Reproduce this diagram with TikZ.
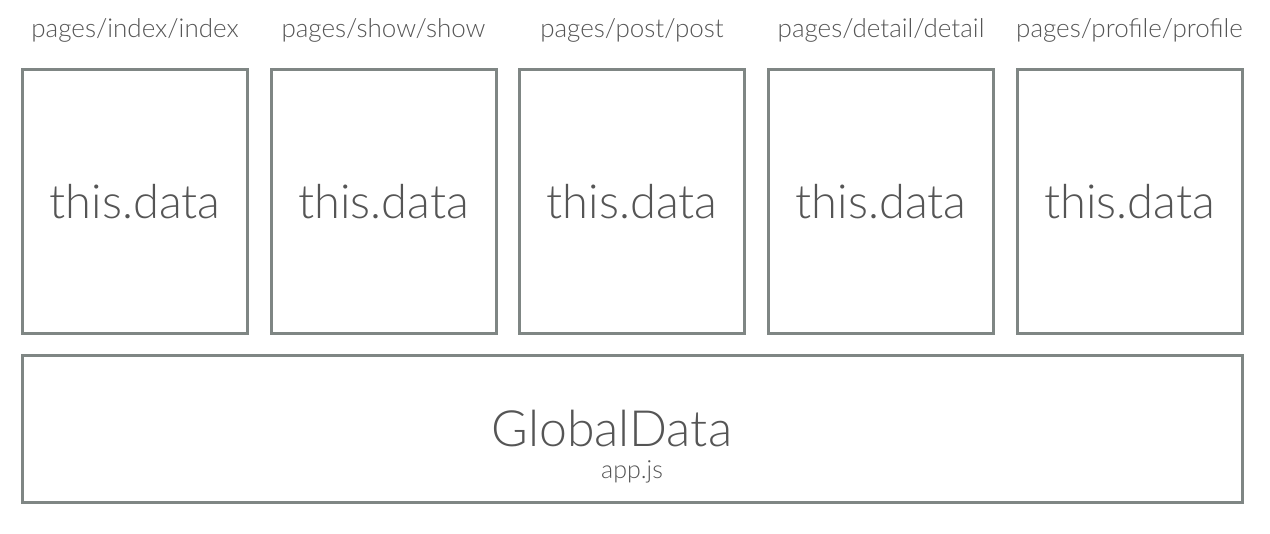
\documentclass[tikz,border=0pt]{standalone}
\usepackage{fontspec}
\setmainfont{Lato}[UprightFont=* Light]
\definecolor{boxc}{HTML}{7F8684}
\definecolor{txtc}{HTML}{555555}
\begin{document}
\begin{tikzpicture}[x=1pt,y=-1pt,
  pagebox/.style={draw=boxc,line width=3pt,minimum width=225pt,minimum height=264pt,inner sep=0pt,
    text=txtc,font=\fontsize{47}{50}\selectfont},
  lbl/.style={text=txtc,font=\fontsize{26}{28}\selectfont,inner sep=0pt},
  globbox/.style={draw=boxc,line width=3pt,minimum width=1220pt,minimum height=147pt,inner sep=0pt}]
\useasboundingbox (0,0) rectangle (1270,534);
\node[pagebox] (p1) at (135,201.5) {this.data};
\node[pagebox] (p2) at (383.5,201.5) {this.data};
\node[pagebox] (p3) at (632,201.5) {this.data};
\node[pagebox] (p4) at (881,201.5) {this.data};
\node[pagebox] (p5) at (1129.5,201.5) {this.data};
\node[lbl] (l1) at (135,30) {pages/index/index};
\node[lbl] (l2) at (383.5,30) {pages/show/show};
\node[lbl] (l3) at (632,30) {pages/post/post};
\node[lbl] (l4) at (881,30) {pages/detail/detail};
\node[lbl] (l5) at (1129.5,30) {pages/profile/profile};
\node[globbox] (g) at (632.5,429) {};
\node[text=txtc,font=\fontsize{50}{54}\selectfont,inner sep=0pt] (gt) at (612,429) {GlobalData};
\node[text=txtc,font=\fontsize{25}{27}\selectfont,inner sep=0pt] (ga) at (632,472) {app.js};
\end{tikzpicture}
\end{document}
